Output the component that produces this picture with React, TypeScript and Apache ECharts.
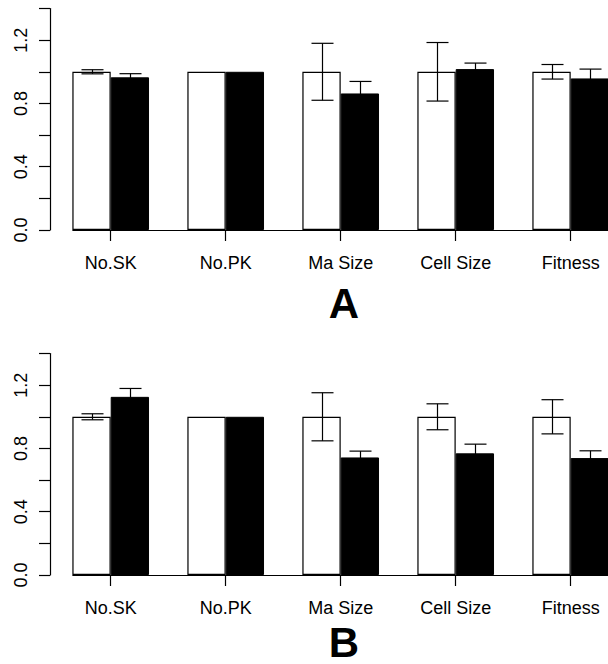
import React, { useEffect, useRef } from "react";
import * as echarts from "echarts";

const categories = ["No.SK", "No.PK", "Ma Size", "Cell Size", "Fitness"];
const aControl = [1, 1, 1, 1, 1];
const aTreat = [0.965, 1.0, 0.863, 1.017, 0.958];
const aControlErr = [0.013, 0, 0.18, 0.185, 0.046];
const aTreatErr = [0.023, 0, 0.076, 0.038, 0.059];
const bControl = [1, 1, 1, 1, 1];
const bTreat = [1.126, 1.0, 0.743, 0.769, 0.739];
const bControlErr = [0.019, 0, 0.152, 0.082, 0.108];
const bTreatErr = [0.053, 0, 0.04, 0.058, 0.046];
const yTickLabels = ["0.0", "0.4", "0.8", "1.2"];
const panelLetters = ["A", "B"];

const FONT = "'Liberation Sans', Arial, Helvetica, sans-serif";

function errData(means: number[], errs: number[], side: number) {
  return means.map((m, i) => [i, m, errs[i], side]);
}

const renderErr = (params: any, api: any) => {
  const cat = api.value(0);
  const v = api.value(1);
  const e = api.value(2);
  const side = api.value(3);
  if (!e) return null;
  const band = api.size([1, 0])[0];
  const c = api.coord([cat, v]);
  const x = Math.round(c[0] + (side * band) / 6) + 0.5;
  const yTop = api.coord([cat, v + e])[1];
  const yBot = api.coord([cat, v - e])[1];
  const h = (band * 11) / 115;
  const style = { stroke: "#000", lineWidth: 1.2 };
  return {
    type: "group",
    children: [
      { type: "line", shape: { x1: x, y1: yTop, x2: x, y2: yBot }, style },
      { type: "line", shape: { x1: x - h, y1: yTop, x2: x + h, y2: yTop }, style },
      { type: "line", shape: { x1: x - h, y1: yBot, x2: x + h, y2: yBot }, style },
    ],
  };
};

export default function App() {
  const ref = useRef<HTMLDivElement>(null);
  useEffect(() => {
    if (!ref.current) return;
    const chart = echarts.init(ref.current, undefined, { renderer: "svg" });
    const grids = [
      { left: 53.2, width: 575, top: 8.5, height: 221.5 },
      { left: 53.2, width: 575, top: 353.5, height: 221.5 },
    ];
    const xAxis = [0, 1].map((g) => ({
      type: "category",
      gridIndex: g,
      data: categories,
      axisLine: { show: false },
      axisTick: { show: true, alignWithLabel: true, length: 11, lineStyle: { color: "#000", width: 1.2 } },
      axisLabel: { color: "#000", fontSize: 18, fontFamily: FONT, margin: 24, interval: 0 },
      splitLine: { show: false },
    }));
    const yAxis = [0, 1].map((g) => ({
      type: "value",
      gridIndex: g,
      min: 0,
      max: 1.4,
      interval: 0.2,
      offset: 3.2,
      axisLine: { show: true, lineStyle: { color: "#000", width: 1.2 } },
      axisTick: { show: true, length: 11, lineStyle: { color: "#000", width: 1.2 } },
      splitLine: { show: false },
      axisLabel: {
        color: "#000",
        fontSize: 18,
        fontFamily: FONT,
        rotate: 90,
        margin: 20,
        showMaxLabel: true,
        formatter: (v: number) => {
          const s = v.toFixed(1);
          return yTickLabels.indexOf(s) >= 0 ? s : "";
        },
      },
    }));
    const barCommon = { type: "bar", barWidth: 38.33, barGap: "0%" };
    const series: any[] = [
      { ...barCommon, xAxisIndex: 0, yAxisIndex: 0, data: aControl, itemStyle: { color: "#fff", borderColor: "#000", borderWidth: 1.2 } },
      { ...barCommon, xAxisIndex: 0, yAxisIndex: 0, data: aTreat, itemStyle: { color: "#000", borderColor: "#000", borderWidth: 1 } },
      { type: "custom", xAxisIndex: 0, yAxisIndex: 0, z: 5, renderItem: renderErr, encode: { x: 0, y: 1 }, data: [...errData(aControl, aControlErr, -1), ...errData(aTreat, aTreatErr, 1)] },
      { ...barCommon, xAxisIndex: 1, yAxisIndex: 1, data: bControl, itemStyle: { color: "#fff", borderColor: "#000", borderWidth: 1.2 } },
      { ...barCommon, xAxisIndex: 1, yAxisIndex: 1, data: bTreat, itemStyle: { color: "#000", borderColor: "#000", borderWidth: 1 } },
      { type: "custom", xAxisIndex: 1, yAxisIndex: 1, z: 5, renderItem: renderErr, encode: { x: 0, y: 1 }, data: [...errData(bControl, bControlErr, -1), ...errData(bTreat, bTreatErr, 1)] },
    ];
    chart.setOption({
      animation: false,
      backgroundColor: "#fff",
      grid: grids,
      xAxis,
      yAxis,
      series,
    });
    // baselines from first bar's left edge, and panel letters, from the chart's own scales
    const letterOffsets = [73.5, 67];
    const graphics: any[] = [];
    [0, 1].forEach((g) => {
      const p0 = chart.convertToPixel({ xAxisIndex: g, yAxisIndex: g } as any, [0, 0]) as number[];
      const p1 = chart.convertToPixel({ xAxisIndex: g, yAxisIndex: g } as any, [1, 0]) as number[];
      const band = p1[0] - p0[0];
      const y = Math.round(p0[1]) + 0.5;
      graphics.push({
        type: "line",
        z: 10,
        shape: { x1: p0[0] - band / 3, y1: y, x2: 640, y2: y },
        style: { stroke: "#000", lineWidth: 1.2 },
      });
      graphics.push({
        type: "text",
        x: 344,
        y: p0[1] + letterOffsets[g],
        style: {
          text: panelLetters[g],
          fontSize: 42,
          lineHeight: 34,
          fontWeight: "bold",
          fontFamily: FONT,
          fill: "#000",
          textAlign: "center",
          textVerticalAlign: "middle",
        },
      });
    });
    chart.setOption({ graphic: graphics });
    return () => chart.dispose();
  }, []);
  return (
    <div style={{ position: "fixed", left: 0, top: 0, width: 608, height: 664, overflow: "hidden", background: "#fff" }}>
      <div ref={ref} style={{ width: 640, height: 664 }} />
    </div>
  );
}
